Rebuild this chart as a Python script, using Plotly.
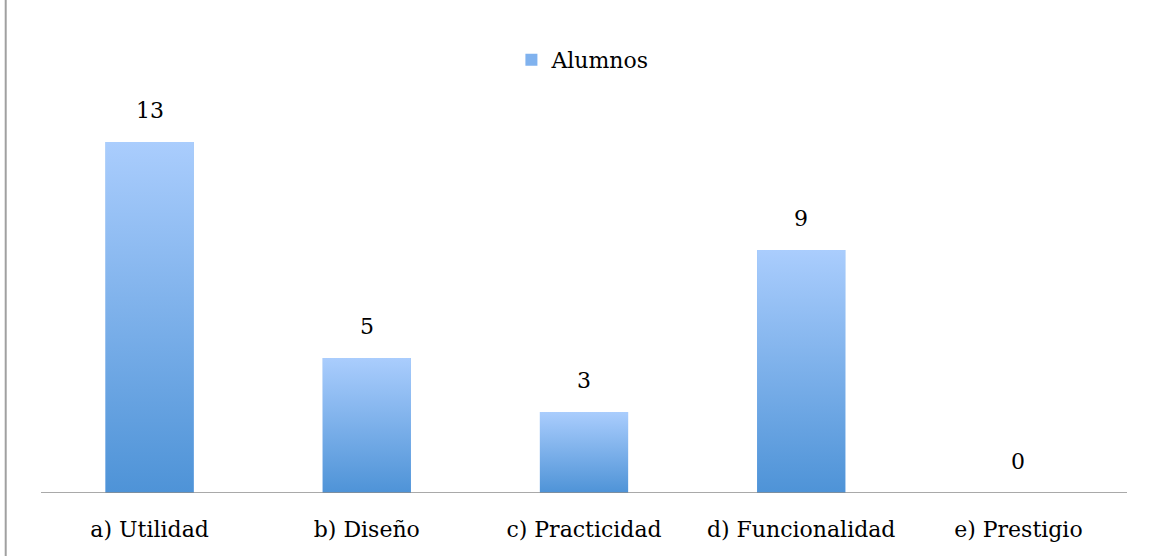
import plotly.graph_objects as go

categories = ["a) Utilidad", "b) Diseño", "c) Practicidad", "d) Funcionalidad", "e) Prestigio"]
values = [13, 5, 3, 9, 0]
series_name = "Alumnos"

bar_width = 0.406
light = "#aacdfd"
dark = "#4e93d7"
mid = "#80b2ee"
font_family = "DejaVu Serif"
fsize = 22

fig = go.Figure()
positions = list(range(len(categories)))

fig.add_trace(go.Bar(
    x=positions,
    y=values,
    width=bar_width,
    marker=dict(color=mid, line=dict(width=0)),
    name=series_name,
    showlegend=True,
    customdata=categories,
    hovertemplate="%{customdata}: %{y}<extra></extra>",
))

h = bar_width / 2
for x, v in zip(positions, values):
    if v <= 0:
        continue
    fig.add_trace(go.Scatter(
        x=[x - h, x + h, x + h, x - h, x - h],
        y=[0, 0, v, v, 0],
        mode="none",
        fill="toself",
        fillgradient=dict(type="vertical", colorscale=[[0, dark], [1, light]]),
        showlegend=False,
        hoverinfo="skip",
    ))

annotations = [
    dict(x=x, y=v, xref="x", yref="y", text=str(v), showarrow=False,
         yanchor="bottom", yshift=17,
         font=dict(family=font_family, size=fsize, color="#000000"))
    for x, v in zip(positions, values)
]

fig.update_layout(
    width=1156,
    height=556,
    margin=dict(l=41, r=29, t=88, b=63),
    paper_bgcolor="white",
    plot_bgcolor="white",
    font=dict(family=font_family, size=fsize, color="#000000"),
    legend=dict(
        orientation="h",
        x=0.499, xanchor="center",
        y=1.069, yanchor="middle",
        font=dict(family=font_family, size=fsize, color="#000000"),
        itemwidth=30,
        bgcolor="rgba(0,0,0,0)",
    ),
    showlegend=True,
    annotations=annotations,
    xaxis=dict(
        range=[-0.5, 4.5],
        tickmode="array",
        tickvals=positions,
        ticktext=categories,
        showgrid=False,
        zeroline=False,
        showline=False,
        ticks="",
        ticklabelstandoff=21,
        tickfont=dict(family=font_family, size=fsize, color="#000000"),
        fixedrange=True,
    ),
    yaxis=dict(
        range=[0, 15],
        showgrid=False,
        zeroline=False,
        showline=False,
        showticklabels=False,
        ticks="",
        fixedrange=True,
    ),
    shapes=[
        dict(type="line", xref="paper", yref="y", x0=0, x1=1, y0=0, y1=0,
             line=dict(color="#8c8c8c", width=1.5)),
        dict(type="line", xref="paper", yref="paper", x0=-0.0325, x1=-0.0325, y0=-0.2, y1=1.3,
             line=dict(color="#a0a0a0", width=2)),
    ],
)

fig.write_html("out.html")
